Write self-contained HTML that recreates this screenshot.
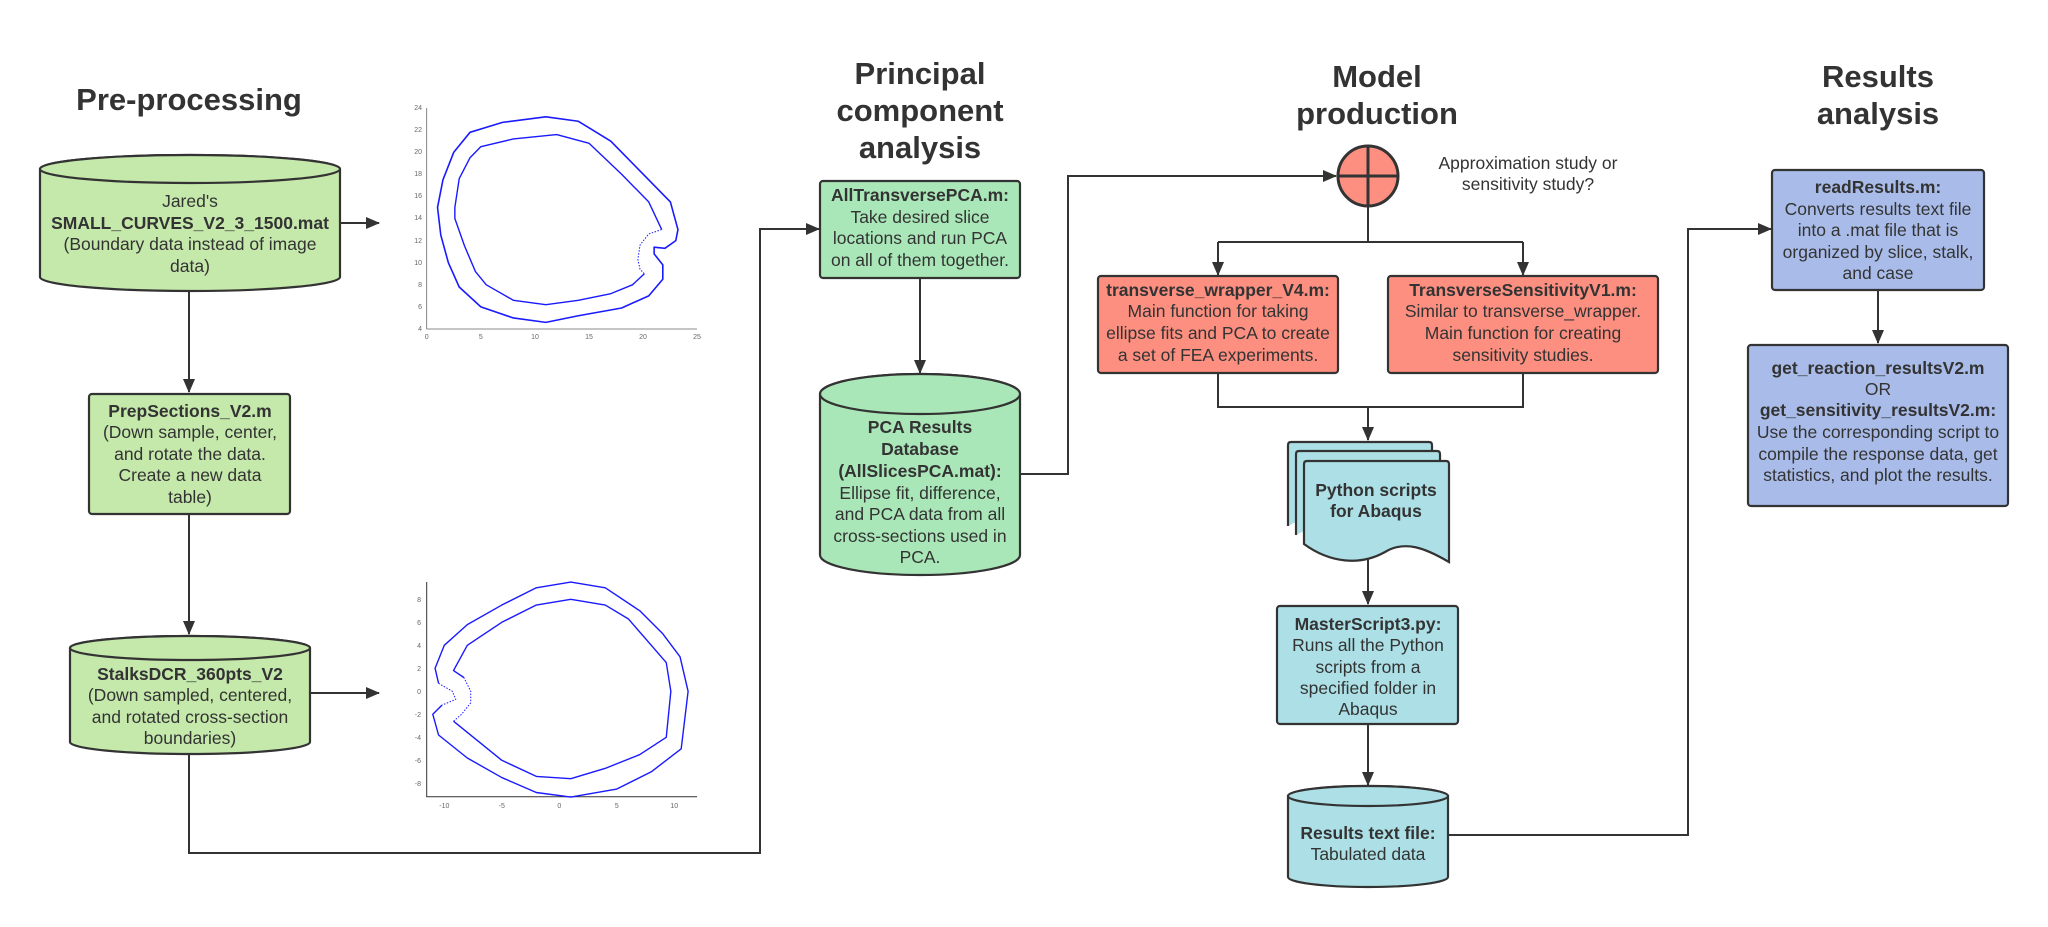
<!DOCTYPE html>
<html><head><meta charset="utf-8"><style>
html,body{margin:0;padding:0;background:#fff}
svg{display:block}
text{font-family:"Liberation Sans",Arial,sans-serif;fill:#333;font-size:17.5px}
.b{font-weight:bold}
.t{font-weight:bold;font-size:31px}
.ax{font-size:7px;fill:#666}
</style></head><body>
<svg width="2048" height="927" viewBox="0 0 2048 927" xmlns="http://www.w3.org/2000/svg">
<defs>
<marker id="ar" markerWidth="14" markerHeight="12" refX="13" refY="6" orient="auto" markerUnits="userSpaceOnUse">
<path d="M0,0 L14,6 L0,12 Z" fill="#333"/></marker>
</defs>
<g stroke="#333" stroke-width="2" fill="none">
<path d="M340,223 L379,223" marker-end="url(#ar)"/>
<path d="M189,291 L189,392" marker-end="url(#ar)"/>
<path d="M189,514 L189,634" marker-end="url(#ar)"/>
<path d="M310,693 L379,693" marker-end="url(#ar)"/>
<path d="M189,754 L189,853 L760,853 L760,229 L819,229" marker-end="url(#ar)"/>
<path d="M920,278 L920,373" marker-end="url(#ar)"/>
<path d="M1020,474 L1068,474 L1068,176 L1336,176" marker-end="url(#ar)"/>
<path d="M1368,206 L1368,242 M1218,242 L1523,242"/>
<path d="M1218,242 L1218,275" marker-end="url(#ar)"/>
<path d="M1523,242 L1523,275" marker-end="url(#ar)"/>
<path d="M1218,373 L1218,407 L1523,407 L1523,373 M1368,407 L1368,440"/>
<path d="M1368,407 L1368,440" marker-end="url(#ar)"/>
<path d="M1368,557 L1368,604" marker-end="url(#ar)"/>
<path d="M1368,724 L1368,785" marker-end="url(#ar)"/>
<path d="M1448,835 L1688,835 L1688,229 L1771,229" marker-end="url(#ar)"/>
<path d="M1878,290 L1878,343" marker-end="url(#ar)"/>
</g>
<text class="t" x="189" y="110" text-anchor="middle">Pre-processing</text>
<text class="t" text-anchor="middle"><tspan x="920" y="84">Principal</tspan><tspan x="920" y="121">component</tspan><tspan x="920" y="158">analysis</tspan></text>
<text class="t" text-anchor="middle"><tspan x="1377" y="87">Model</tspan><tspan x="1377" y="124">production</tspan></text>
<text class="t" text-anchor="middle"><tspan x="1878" y="87">Results</tspan><tspan x="1878" y="124">analysis</tspan></text>

<g stroke="#333" stroke-width="2.2">
<path d="M40,169 A150,14 0 0 1 340,169 L340,277 A150,14 0 0 1 40,277 Z" fill="#c5e8ab"/>
<ellipse cx="190" cy="169" rx="150" ry="14" fill="#c5e8ab"/>
<rect x="89" y="394" width="201" height="120" rx="3" fill="#c5e8ab"/>
<path d="M70,648 A120,12 0 0 1 310,648 L310,742 A120,12 0 0 1 70,742 Z" fill="#c5e8ab"/>
<ellipse cx="190" cy="648" rx="120" ry="12" fill="#c5e8ab"/>
<rect x="820" y="181" width="200" height="97" rx="3" fill="#aae7b8"/>
<path d="M820,394 A100,20 0 0 1 1020,394 L1020,555 A100,20 0 0 1 820,555 Z" fill="#aae7b8"/>
<ellipse cx="920" cy="394" rx="100" ry="20" fill="#aae7b8"/>
<circle cx="1368" cy="176" r="30" fill="#fd8f80" stroke-width="3"/>
<path d="M1338,176 L1398,176 M1368,146 L1368,206" stroke-width="3"/>
<rect x="1098" y="276" width="240" height="97" rx="3" fill="#fd8f80"/>
<rect x="1388" y="276" width="270" height="97" rx="3" fill="#fd8f80"/>
<path d="M1288,526 L1288,445 Q1288,442 1291,442 L1429,442 Q1432,442 1432,445 L1432,452" fill="#ace0e6"/>
<path d="M1296,535 L1296,454 Q1296,451 1299,451 L1437,451 Q1440,451 1440,454 L1440,461" fill="#ace0e6"/>
<path d="M1304,544 L1304,464 Q1304,461 1307,461 L1446,461 Q1449,461 1449,464 L1449,562 C1425,548 1405,540 1385,552 C1360,566 1330,563 1304,544 Z" fill="#ace0e6"/>
<rect x="1277" y="606" width="181" height="118" rx="3" fill="#ace0e6"/>
<path d="M1288,796 A80,10 0 0 1 1448,796 L1448,877 A80,10 0 0 1 1288,877 Z" fill="#ace0e6"/>
<ellipse cx="1368" cy="796" rx="80" ry="10" fill="#ace0e6"/>
<rect x="1772" y="170" width="212" height="120" rx="3" fill="#a9bce9"/>
<rect x="1748" y="345" width="260" height="161" rx="3" fill="#a9bce9"/>
</g>

<g text-anchor="middle">
<text><tspan x="190" y="207">Jared's</tspan><tspan class="b" x="190" y="229">SMALL_CURVES_V2_3_1500.mat</tspan><tspan x="190" y="250">(Boundary data instead of image</tspan><tspan x="190" y="272">data)</tspan></text>
<text><tspan class="b" x="190" y="417">PrepSections_V2.m</tspan><tspan x="190" y="438">(Down sample, center,</tspan><tspan x="190" y="460">and rotate the data.</tspan><tspan x="190" y="481">Create a new data</tspan><tspan x="190" y="503">table)</tspan></text>
<text><tspan class="b" x="190" y="680">StalksDCR_360pts_V2</tspan><tspan x="190" y="701">(Down sampled, centered,</tspan><tspan x="190" y="723">and rotated cross-section</tspan><tspan x="190" y="744">boundaries)</tspan></text>
<text><tspan class="b" x="920" y="201">AllTransversePCA.m:</tspan><tspan x="920" y="223">Take desired slice</tspan><tspan x="920" y="244">locations and run PCA</tspan><tspan x="920" y="266">on all of them together.</tspan></text>
<text><tspan class="b" x="920" y="433">PCA Results</tspan><tspan class="b" x="920" y="455">Database</tspan><tspan class="b" x="920" y="477">(AllSlicesPCA.mat):</tspan><tspan x="920" y="499">Ellipse fit, difference,</tspan><tspan x="920" y="520">and PCA data from all</tspan><tspan x="920" y="542">cross-sections used in</tspan><tspan x="920" y="563">PCA.</tspan></text>
<text><tspan x="1528" y="169">Approximation study or</tspan><tspan x="1528" y="190">sensitivity study?</tspan></text>
<text><tspan class="b" x="1218" y="296">transverse_wrapper_V4.m:</tspan><tspan x="1218" y="317">Main function for taking</tspan><tspan x="1218" y="339">ellipse fits and PCA to create</tspan><tspan x="1218" y="361">a set of FEA experiments.</tspan></text>
<text><tspan class="b" x="1523" y="296">TransverseSensitivityV1.m:</tspan><tspan x="1523" y="317">Similar to transverse_wrapper.</tspan><tspan x="1523" y="339">Main function for creating</tspan><tspan x="1523" y="361">sensitivity studies.</tspan></text>
<text class="b"><tspan x="1376" y="496">Python scripts</tspan><tspan x="1376" y="517">for Abaqus</tspan></text>
<text><tspan class="b" x="1368" y="630">MasterScript3.py:</tspan><tspan x="1368" y="651">Runs all the Python</tspan><tspan x="1368" y="673">scripts from a</tspan><tspan x="1368" y="694">specified folder in</tspan><tspan x="1368" y="715">Abaqus</tspan></text>
<text><tspan class="b" x="1368" y="839">Results text file:</tspan><tspan x="1368" y="860">Tabulated data</tspan></text>
<text><tspan class="b" x="1878" y="193">readResults.m:</tspan><tspan x="1878" y="215">Converts results text file</tspan><tspan x="1878" y="236">into a .mat file that is</tspan><tspan x="1878" y="258">organized by slice, stalk,</tspan><tspan x="1878" y="279">and case</tspan></text>
<text><tspan class="b" x="1878" y="374">get_reaction_resultsV2.m</tspan><tspan x="1878" y="395">OR</tspan><tspan class="b" x="1878" y="416">get_sensitivity_resultsV2.m:</tspan><tspan x="1878" y="438">Use the corresponding script to</tspan><tspan x="1878" y="460">compile the response data, get</tspan><tspan x="1878" y="481">statistics, and plot the results.</tspan></text>
</g>

<g>
<path d="M426.7,108 L426.7,329 L697,329" stroke="#666" stroke-width="0.8" fill="none"/>
<g text-anchor="end">
<text class="ax" x="422" y="331">4</text><text class="ax" x="422" y="309">6</text><text class="ax" x="422" y="287">8</text><text class="ax" x="422" y="265">10</text><text class="ax" x="422" y="243">12</text><text class="ax" x="422" y="220">14</text><text class="ax" x="422" y="198">16</text><text class="ax" x="422" y="176">18</text><text class="ax" x="422" y="154">20</text><text class="ax" x="422" y="132">22</text><text class="ax" x="422" y="110">24</text>
</g>
<g text-anchor="middle">
<text class="ax" x="426.7" y="339">0</text><text class="ax" x="480.8" y="339">5</text><text class="ax" x="535" y="339">10</text><text class="ax" x="589" y="339">15</text><text class="ax" x="643" y="339">20</text><text class="ax" x="697" y="339">25</text>
</g>
<g transform="translate(426.7,373.2) scale(10.83,-11.05)" fill="none" stroke="#1a1aff" stroke-linejoin="round">
<path vector-effect="non-scaling-stroke" stroke-width="1.6" d="M1,15 L1.5,17.5 L2.5,20 L4,21.8 L7,22.7 L11,23.2 L14,22.8 L17,21 L20,18 L22.5,15.5 L23.2,13 L23,12 L22,11.3 L21,11.4 L21,10.8 L21.8,9.8 L21.8,8.5 L20.5,7 L18,5.9 L14,5.2 L11,4.6 L8,5 L5,6 L3,7.8 L2,10 L1.3,12.5 Z"/>
<path vector-effect="non-scaling-stroke" stroke-width="1.4" d="M20.1,9 L19,8 L17,7.2 L14,6.6 L11,6.2 L8,6.6 L5.5,8 L4.5,9.2 L3.5,11.5 L2.6,14 L2.6,15 L3,17.6 L4,19.5 L5,20.5 L8,21.2 L12,21.6 L15,20.8 L18,18 L20.5,15.5 L21.7,13"/>
<path vector-effect="non-scaling-stroke" stroke-width="1" stroke-dasharray="1.5 1.5" d="M21.7,13 L20.5,12.6 L19.7,11.6 L19.5,10.3 L19.7,9.4 L20.1,9"/>
</g>
</g>

<g>
<path d="M426.7,582 L426.7,796.7 L697,796.7" stroke="#333" stroke-width="1" fill="none"/>
<g text-anchor="end">
<text class="ax" x="421" y="602">8</text><text class="ax" x="421" y="625">6</text><text class="ax" x="421" y="648">4</text><text class="ax" x="421" y="671">2</text><text class="ax" x="421" y="694">0</text><text class="ax" x="421" y="717">-2</text><text class="ax" x="421" y="740">-4</text><text class="ax" x="421" y="763">-6</text><text class="ax" x="421" y="786">-8</text>
</g>
<g text-anchor="middle">
<text class="ax" x="444.3" y="808">-10</text><text class="ax" x="501.8" y="808">-5</text><text class="ax" x="559.3" y="808">0</text><text class="ax" x="616.8" y="808">5</text><text class="ax" x="674.3" y="808">10</text>
</g>
<g transform="translate(559.3,691.3) scale(11.5,-11.5)" fill="none" stroke="#1a1aff" stroke-linejoin="round">
<path vector-effect="non-scaling-stroke" stroke-width="1.4" d="M-10.2,-1.2 L-11,-2 L-10.5,-3.8 L-8,-5.8 L-5,-7.5 L-2,-8.8 L1,-9.2 L5,-8.5 L8,-7 L10.6,-5 L11.2,0 L10.5,3 L9,5 L7,7 L4,9 L1,9.5 L-2,9 L-5,7.5 L-8,5.8 L-10,4 L-10.8,2 L-10.5,0.7"/>
<path vector-effect="non-scaling-stroke" stroke-width="1.4" d="M-8.3,1.2 L-9.2,1.8 L-8,4 L-5,6 L-2,7.5 L1,8 L4,7.5 L6,6.3 L8,4 L9.3,2.5 L9.7,0 L9.3,-4 L7,-5.5 L4,-6.7 L1,-7.6 L-2,-7.4 L-5,-6 L-9.2,-2.6"/>
<path vector-effect="non-scaling-stroke" stroke-width="1" stroke-dasharray="1.5 1.5" d="M-10.5,0.7 L-9.3,0 L-9,-0.7 L-10.2,-1.2 M-9.2,-2.6 L-8.5,-2 L-7.7,-1 L-7.7,0 L-8.3,1.2"/>
</g>
</g>
</svg>
</body></html>
